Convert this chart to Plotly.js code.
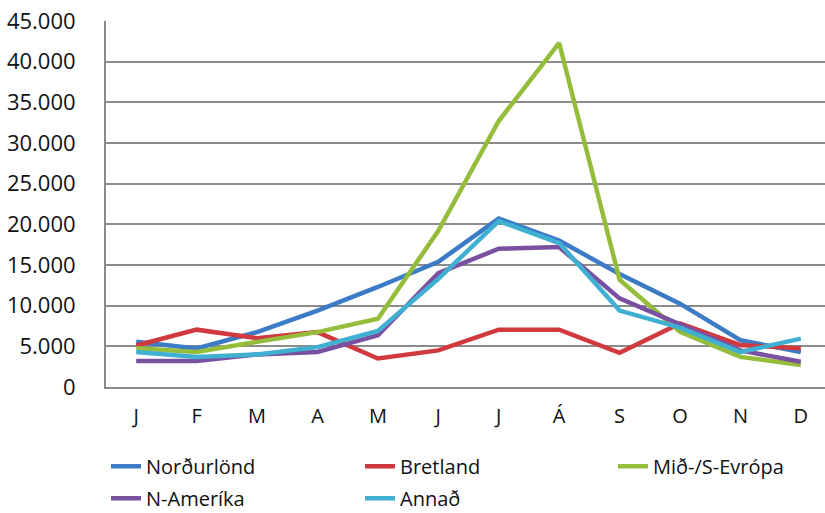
<!DOCTYPE html>
<html>
<head>
<meta charset="utf-8">
<script src="https://cdn.plot.ly/plotly-3.0.1.min.js"></script>
<style>
html,body{margin:0;padding:0;background:#fff;overflow:hidden;}
#chart{width:825px;height:513px;}
</style>
</head>
<body>
<div id="chart"></div>
<script>
const monthLabels = ["J","F","M","A","M","J","J","Á","S","O","N","D"];
const nordurlond = [5550, 4750, 6750, 9400, 12300, 15400, 20700, 18000, 13900, 10250, 5750, 4300];
const bretland = [5100, 7050, 6000, 6750, 3500, 4500, 7050, 7050, 4200, 7800, 5150, 4750];
const midEvropa = [4750, 4300, 5550, 6750, 8400, 19200, 32700, 42300, 13200, 6800, 3700, 2700];
const nAmerika = [3200, 3200, 4000, 4300, 6350, 14000, 17000, 17200, 10900, 7700, 4500, 3100];
const annad = [4300, 3700, 4000, 4900, 6900, 13300, 20400, 17700, 9400, 7300, 4300, 5950];
const yTicks = [0, 5000, 10000, 15000, 20000, 25000, 30000, 35000, 40000, 45000];

const xIdx = monthLabels.map((_, i) => i);
function tr(name, y, color, legend) {
  return {type: "scatter", mode: "lines", name: name, x: xIdx, y: y,
          legend: legend, legendgroup: name,
          line: {color: color, width: 4.5}, hoverinfo: "name+y"};
}
const data = [
  tr("Norðurlönd", nordurlond, "#3c7bc6", "legend"),
  tr("Bretland", bretland, "#d0393d", "legend2"),
  tr("Mið-/S-Evrópa", midEvropa, "#95bd3c", "legend3"),
  tr("N-Ameríka", nAmerika, "#7a50a0", "legend"),
  tr("Annað", annad, "#3fb0d2", "legend2")
];
const font = "Open Sans, Lato, sans-serif";
function leg(x) {
  return {orientation: "v", x: x, xanchor: "left", y: -0.163, yanchor: "top",
          font: {family: font, size: 20, color: "#111"}, tracegroupgap: 3,
          traceorder: "grouped", bgcolor: "rgba(0,0,0,0)", borderwidth: 0};
}
const layout = {
  width: 825, height: 513,
  margin: {l: 106, r: 0, t: 21, b: 126, autoexpand: false},
  paper_bgcolor: "#ffffff", plot_bgcolor: "#ffffff",
  separators: ",.",
  font: {family: font, color: "#111"},
  showlegend: true,
  legend: leg(0),
  legend2: leg(0.3533),
  legend3: leg(0.7051),
  xaxis: {range: [-0.5, 11.4], tickmode: "array", tickvals: xIdx, ticktext: monthLabels,
          showgrid: false, zeroline: false, showline: true, linecolor: "#8a8a8a", linewidth: 2,
          ticks: "outside", ticklen: 0, tickcolor: "rgba(0,0,0,0)", ticklabelstandoff: 10,
          tickfont: {family: font, size: 20, color: "#111"},
          fixedrange: true},
  yaxis: {range: [0, 45000], tickmode: "array", tickvals: yTicks,
          ticktext: yTicks.map(v => v === 0 ? "0" : v.toLocaleString("de-DE")),
          showgrid: true, gridcolor: "#8c8c8c", gridwidth: 2, zeroline: false,
          showline: true, linecolor: "#8a8a8a", linewidth: 2, ticks: "",
          ticklabelstandoff: 24, tickfont: {family: font, size: 22, color: "#111"},
          fixedrange: true}
};
Plotly.newPlot("chart", data, layout, {displayModeBar: false, staticPlot: true});
</script>
</body>
</html>
